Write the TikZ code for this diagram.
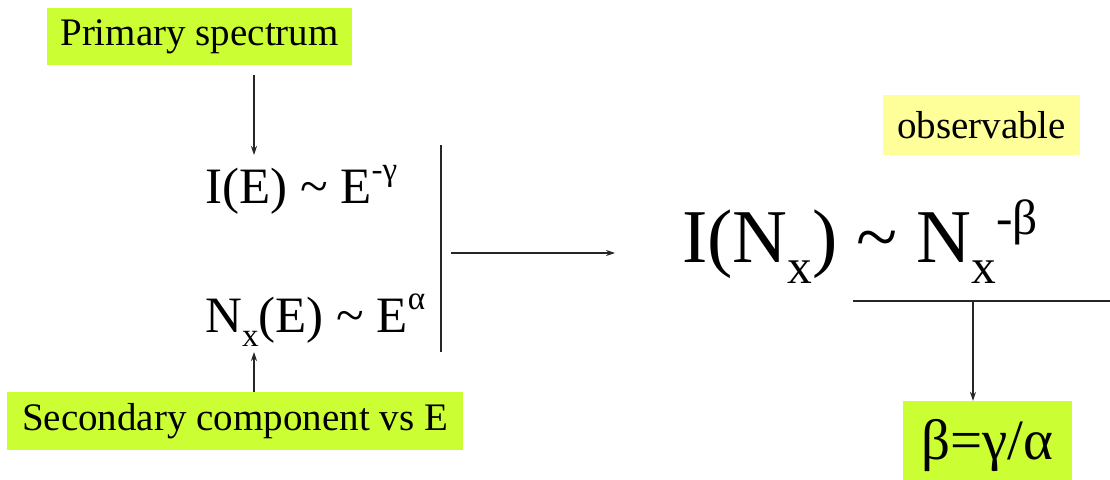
\documentclass[tikz,border=0pt]{standalone}
\usepackage{fontspec}
\setmainfont{Liberation Serif}
\usepackage{graphicx}
\usetikzlibrary{arrows.meta}
\definecolor{limefill}{RGB}{204,255,51}
\definecolor{paleyellow}{RGB}{255,255,153}
\newcommand{\hisup}[2][0.45em]{\raisebox{#1}{\scalebox{0.65}{#2}}}
\newcommand{\losub}[1]{\raisebox{-0.28em}{\scalebox{0.65}{#1}}}
\begin{document}
\begin{tikzpicture}[x=1pt,y=-1pt,
  box/.style={inner sep=0pt, text=black},
  formula/.style={anchor=base west, inner sep=0pt, text=black},
  conn/.style={line width=1.2pt, draw=black!85},
  arr/.style={conn, -{Stealth[length=9pt,width=6pt]}}]
\useasboundingbox (0,0) rectangle (1110,479);
\node[box, fill=limefill, minimum width=305pt, minimum height=57pt,
      font=\fontsize{39}{41}\selectfont] (prim) at (199.5,36.5) {Primary spectrum};
\node[box, fill=limefill, minimum width=456pt, minimum height=58pt,
      font=\fontsize{39}{41}\selectfont] (sec) at (235,421) {Secondary component vs E};
\node[box, fill=paleyellow, minimum width=197pt, minimum height=60pt,
      font=\fontsize{39}{41}\selectfont] (obs) at (981.5,125) {observable};
\node[box, fill=limefill, minimum width=169pt, minimum height=88pt,
      font=\fontsize{57}{60}\selectfont] (res) at (987.5,445) {β=γ/α};
\node[formula, font=\fontsize{51}{54}\selectfont] (ie) at (205,203) {I(E) \textasciitilde{} E\hisup{-γ}};
\node[formula, font=\fontsize{51}{54}\selectfont] (ne) at (205,332) {N\losub{x}(E) \textasciitilde{} E\hisup{α}};
\node[formula, font=\fontsize{76}{80}\selectfont] (inx) at (682,262) {I(N\losub{x}) \textasciitilde{} N\losub{x}\hisup[0.36em]{-β}};
\coordinate (pa) at (254,75);
\coordinate (pb) at (254,155);
\coordinate (sa) at (254,352);
\coordinate (bt) at (441,145);
\coordinate (bb) at (441,352);
\coordinate (ha) at (451,253);
\coordinate (hb) at (615,253);
\coordinate (la) at (853,301);
\coordinate (lb) at (1110,301);
\coordinate (lm) at (973,301);
\draw[arr] (pa) -- (pb);
\draw[arr] (sec.north -| sa) -- (sa);
\draw[conn] (bt) -- (bb);
\draw[arr] (ha) -- (hb);
\draw[conn] (la) -- (lb);
\draw[arr] (lm) -- (lm |- res.north);
\end{tikzpicture}
\end{document}
